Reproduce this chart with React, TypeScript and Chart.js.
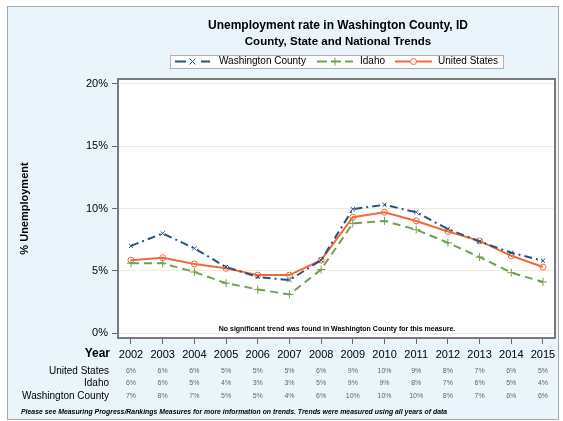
import React, { useEffect, useRef } from "react";
import { Chart, registerables } from "chart.js";

Chart.register(...registerables);

const years = [2002, 2003, 2004, 2005, 2006, 2007, 2008, 2009, 2010, 2011, 2012, 2013, 2014, 2015];
const washingtonCounty = [7.0, 8.0, 6.8, 5.3, 4.5, 4.25, 5.85, 9.95, 10.3, 9.7, 8.35, 7.35, 6.45, 5.8];
const idaho = [5.6, 5.6, 4.9, 4.0, 3.5, 3.1, 5.1, 8.8, 9.0, 8.3, 7.25, 6.1, 4.85, 4.1];
const unitedStates = [5.85, 6.05, 5.55, 5.2, 4.65, 4.65, 5.85, 9.3, 9.7, 9.0, 8.15, 7.4, 6.2, 5.3];
const usRow = ["6%", "6%", "6%", "5%", "5%", "5%", "6%", "9%", "10%", "9%", "8%", "7%", "6%", "5%"];
const idahoRow = ["6%", "6%", "5%", "4%", "3%", "3%", "5%", "9%", "9%", "8%", "7%", "6%", "5%", "4%"];
const wcRow = ["7%", "8%", "7%", "5%", "5%", "4%", "6%", "10%", "10%", "10%", "8%", "7%", "6%", "6%"];
const yTicks = [0, 5, 10, 15, 20];

const title = "Unemployment rate in Washington County, ID";
const subtitle = "County, State and National Trends";
const note = "No significant trend was found in Washington County for this measure.";
const footnote = "Please see Measuring Progress/Rankings Measures for more information on trends. Trends were measured using all years of data";

const C_WC = "#24557f";
const C_ID = "#72a052";
const C_US = "#f26a3c";
const FONT = "'Liberation Sans', Arial, sans-serif";

export default function App() {
  const ref = useRef<HTMLCanvasElement | null>(null);

  useEffect(() => {
    document.body.style.margin = "0";
    const canvas = ref.current!;
    const W = 563, H = 421;
    const L = 118, R = 555, T = 79, B = 338;

    const decor = {
      id: "decor",
      beforeDraw(chart: any) {
        const ctx = chart.ctx;
        ctx.save();
        ctx.fillStyle = "#ffffff";
        ctx.fillRect(0, 0, W, H);
        ctx.fillStyle = "#eaf4fb";
        ctx.fillRect(8, 7, 550, 412);
        ctx.strokeStyle = "#a8a8a8";
        ctx.lineWidth = 1;
        ctx.strokeRect(7.5, 6.5, 551, 413);
        const a = chart.chartArea;
        ctx.fillStyle = "#ffffff";
        ctx.fillRect(a.left, a.top, a.right - a.left, a.bottom - a.top);
        ctx.restore();
      },
      afterDraw(chart: any) {
        const ctx = chart.ctx;
        const a = chart.chartArea;
        const xs = chart.scales.x;
        ctx.save();
        // frame
        ctx.strokeStyle = "#7a7a7a";
        ctx.lineWidth = 2;
        ctx.strokeRect(a.left, a.top, a.right - a.left, a.bottom - a.top);
        // titles
        ctx.fillStyle = "#000";
        ctx.textAlign = "center";
        ctx.textBaseline = "middle";
        ctx.font = `bold 12px ${FONT}`;
        ctx.fillText(title, 338, 26);
        ctx.font = `bold 11.5px ${FONT}`;
        ctx.fillText(subtitle, 338, 42);
        // legend
        ctx.fillStyle = "#ffffff";
        ctx.fillRect(170, 55, 333, 13);
        ctx.strokeStyle = "#b0b0b0";
        ctx.lineWidth = 1;
        ctx.strokeRect(170.5, 55.5, 333, 13);
        const ly = 61.5;
        const items = [
          { x0: 175, x1: 210, color: C_WC, dash: [11, 15, 10], marker: "x", text: "Washington County", tx: 219 },
          { x0: 317, x1: 353, color: C_ID, dash: [10, 4], marker: "+", text: "Idaho", tx: 360 },
          { x0: 395, x1: 432, color: C_US, dash: [], marker: "o", text: "United States", tx: 438 },
        ];
        for (const it of items) {
          ctx.strokeStyle = it.color;
          ctx.lineWidth = 2;
          ctx.setLineDash(it.dash);
          ctx.beginPath();
          ctx.moveTo(it.x0, ly);
          ctx.lineTo(it.x1, ly);
          ctx.stroke();
          ctx.setLineDash([]);
          const mx = (it.x0 + it.x1) / 2;
          ctx.lineWidth = 1;
          ctx.beginPath();
          if (it.marker === "x") {
            ctx.moveTo(mx - 3, ly - 3); ctx.lineTo(mx + 3, ly + 3);
            ctx.moveTo(mx - 3, ly + 3); ctx.lineTo(mx + 3, ly - 3);
          } else if (it.marker === "+") {
            ctx.moveTo(mx - 4, ly); ctx.lineTo(mx + 4, ly);
            ctx.moveTo(mx, ly - 4); ctx.lineTo(mx, ly + 4);
          } else {
            ctx.fillStyle = "#fff";
            ctx.arc(mx, ly, 3, 0, Math.PI * 2);
            ctx.fill();
          }
          ctx.stroke();
          ctx.fillStyle = "#000";
          ctx.textAlign = "left";
          ctx.font = `10px ${FONT}`;
          ctx.fillText(it.text, it.tx, ly);
        }
        // annotation
        ctx.fillStyle = "#000";
        ctx.textAlign = "center";
        ctx.font = `bold 7px ${FONT}`;
        ctx.fillText(note, 337, 329);
        // table
        ctx.textAlign = "right";
        ctx.font = `bold 12px ${FONT}`;
        ctx.fillText("Year", 110, 354);
        const rows = [
          { label: "United States", vals: usRow, y: 371 },
          { label: "Idaho", vals: idahoRow, y: 383 },
          { label: "Washington County", vals: wcRow, y: 396 },
        ];
        for (const r of rows) {
          ctx.fillStyle = "#000";
          ctx.textAlign = "right";
          ctx.font = `10px ${FONT}`;
          ctx.fillText(r.label, 109, r.y);
          ctx.fillStyle = "#666";
          ctx.textAlign = "center";
          ctx.font = `7px ${FONT}`;
          r.vals.forEach((v, i) => ctx.fillText(v, xs.getPixelForValue(years[i]), r.y));
        }
        // footnote
        ctx.fillStyle = "#000";
        ctx.textAlign = "left";
        ctx.font = `italic bold 6.9px ${FONT}`;
        ctx.fillText(footnote, 21, 412);
        ctx.restore();
      },
    };

    const chart = new Chart(canvas, {
      type: "line",
      data: {
        datasets: [
          {
            label: "Washington County",
            data: years.map((y, i) => ({ x: y, y: washingtonCounty[i] })),
            borderColor: C_WC,
            backgroundColor: C_WC,
            borderWidth: 2,
            borderDash: [8, 4, 2, 4],
            pointStyle: "crossRot",
            pointRadius: 3,
            pointBorderWidth: 1,
          },
          {
            label: "Idaho",
            data: years.map((y, i) => ({ x: y, y: idaho[i] })),
            borderColor: C_ID,
            backgroundColor: C_ID,
            borderWidth: 2,
            borderDash: [8, 5],
            pointStyle: "cross",
            pointRadius: 4,
            pointBorderWidth: 1,
          },
          {
            label: "United States",
            data: years.map((y, i) => ({ x: y, y: unitedStates[i] })),
            borderColor: C_US,
            backgroundColor: "rgba(255,255,255,0)",
            borderWidth: 2,
            pointStyle: "circle",
            pointRadius: 3,
            pointBorderWidth: 1,
          },
        ],
      },
      options: {
        animation: false,
        responsive: false,
        devicePixelRatio: 1,
        layout: { padding: { left: 0, right: W - R, top: T, bottom: 0 } },
        plugins: { legend: { display: false }, tooltip: { enabled: false }, title: { display: false } },
        scales: {
          x: {
            type: "linear",
            min: 2001.59,
            max: 2015.38,
            afterFit: (s: any) => { s.height = H - B; },
            afterBuildTicks: (s: any) => { s.ticks = years.map((v) => ({ value: v })); },
            grid: { drawOnChartArea: false, color: "#666", tickLength: 6, drawTicks: true },
            border: { display: false },
            ticks: {
              color: "#000",
              font: { family: FONT, size: 11 },
              padding: 4,
              maxRotation: 0,
              autoSkip: false,
              callback: (v: any) => String(v),
            },
          },
          y: {
            min: -0.4,
            max: 20.4,
            afterFit: (s: any) => { s.width = L; },
            afterBuildTicks: (s: any) => { s.ticks = yTicks.map((v) => ({ value: v })); },
            grid: {
              color: "#f1ead8",
              tickColor: "#666",
              tickLength: 6,
              lineWidth: 1,
            },
            border: { display: false },
            ticks: {
              color: "#000",
              font: { family: FONT, size: 11 },
              padding: 4,
              callback: (v: any) => v + "%",
            },
            title: {
              display: true,
              text: "% Unemployment",
              color: "#000",
              font: { family: FONT, size: 11, weight: "bold" },
              padding: { top: 18, bottom: 0 },
            },
          },
        },
      },
      plugins: [decor],
    });
    return () => chart.destroy();
  }, []);

  return <canvas ref={ref} width={563} height={421} style={{ display: "block", width: 563, height: 421 }} />;
}
